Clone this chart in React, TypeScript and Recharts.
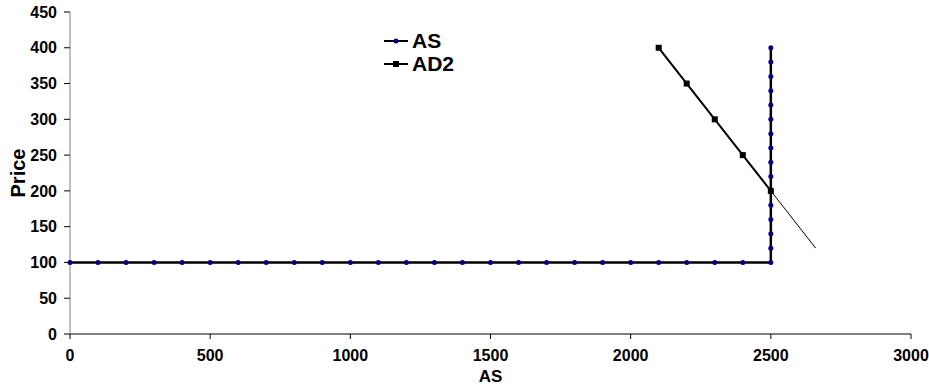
import { LineChart, Line, XAxis, YAxis, Legend } from "recharts";

// AS: flat at 100 up to 2500, then vertical at 2500
const AS_QTY = [
  0, 100, 200, 300, 400, 500, 600, 700, 800, 900, 1000, 1100, 1200, 1300,
  1400, 1500, 1600, 1700, 1800, 1900, 2000, 2100, 2200, 2300, 2400, 2500,
  2500, 2500, 2500, 2500, 2500, 2500, 2500, 2500, 2500, 2500, 2500, 2500,
  2500, 2500, 2500,
];
const AS_PRICE = [
  100, 100, 100, 100, 100, 100, 100, 100, 100, 100, 100, 100, 100, 100, 100,
  100, 100, 100, 100, 100, 100, 100, 100, 100, 100, 100, 120, 140, 160, 180,
  200, 220, 240, 260, 280, 300, 320, 340, 360, 380, 400,
];

const AD2_QTY = [2100, 2200, 2300, 2400, 2500];
const AD2_PRICE = [400, 350, 300, 250, 200];

// thin extension of AD2 past the AS line
const AD2_EXT_QTY = [2500, 2660];
const AD2_EXT_PRICE = [200, 120];

const X_TICKS = [0, 500, 1000, 1500, 2000, 2500, 3000];
const Y_TICKS = [0, 50, 100, 150, 200, 250, 300, 350, 400, 450];
const LEGEND_ORDER = ["AS", "AD2"];

const toRows = (xs: number[], ys: number[]) =>
  xs.map((qty, i) => ({ qty, price: ys[i] }));

const asData = toRows(AS_QTY, AS_PRICE);
const ad2Data = toRows(AD2_QTY, AD2_PRICE);
const extData = toRows(AD2_EXT_QTY, AD2_EXT_PRICE);

const FONT = "'Liberation Sans', Arial, sans-serif";
const NAVY = "#000080";

const SquareDot = (props: any) => {
  const { cx, cy, index } = props;
  if (cx == null || cy == null) return null;
  return <rect key={`sq-${index}`} x={cx - 3} y={cy - 3} width={6} height={6} fill="#000" />;
};

const LegendBox = (props: any) => {
  const items = (props.payload || [])
    .filter((p: any) => LEGEND_ORDER.includes(p.value))
    .sort((a: any, b: any) => LEGEND_ORDER.indexOf(a.value) - LEGEND_ORDER.indexOf(b.value));
  return (
    <div style={{ fontFamily: FONT, fontWeight: "bold", fontSize: 21 }}>
      {items.map((item: any) => (
        <div key={item.value} style={{ display: "flex", alignItems: "center", height: 23 }}>
          <svg width={26} height={12} style={{ marginRight: 3 }}>
            <line x1={1} y1={6} x2={25} y2={6} stroke="#000" strokeWidth={2} />
            {item.value === "AS" ? (
              <circle cx={13} cy={6} r={2.5} fill={NAVY} />
            ) : (
              <rect x={10} y={3} width={6} height={6} fill="#000" />
            )}
          </svg>
          <span>{item.value}</span>
        </div>
      ))}
    </div>
  );
};

export default function App() {
  return (
    <div style={{ position: "absolute", left: 0, top: 0, background: "#fff" }}>
      <LineChart
        width={929}
        height={391}
        margin={{ top: 12, right: 18, left: 0, bottom: 0 }}
      >
        <XAxis
          dataKey="qty"
          type="number"
          domain={[0, 3000]}
          ticks={X_TICKS}
          allowDuplicatedCategory={false}
          height={57}
          tickSize={5}
          tickMargin={11}
          axisLine={{ stroke: "#000" }}
          tickLine={{ stroke: "#000" }}
          tick={{ fill: "#000", fontFamily: FONT, fontWeight: "bold", fontSize: 16 }}
          label={{
            value: "AS",
            position: "insideBottom",
            offset: 9,
            fill: "#000",
            fontFamily: FONT,
            fontWeight: "bold",
            fontSize: 17,
          }}
        />
        <YAxis
          dataKey="price"
          type="number"
          domain={[0, 450]}
          ticks={Y_TICKS}
          width={70}
          tickSize={6}
          tickMargin={7}
          axisLine={{ stroke: "#808080" }}
          tickLine={{ stroke: "#000" }}
          tick={{ fill: "#000", fontFamily: FONT, fontWeight: "bold", fontSize: 16 }}
          label={{
            value: "Price",
            angle: -90,
            position: "insideLeft",
            offset: 18,
            textAnchor: "middle",
            fill: "#000",
            fontFamily: FONT,
            fontWeight: "bold",
            fontSize: 20,
          }}
        />
        <Legend
          content={<LegendBox />}
          layout="vertical"
          align="center"
          verticalAlign="middle"
          wrapperStyle={{ position: "absolute", left: 383, top: 29, width: 100 }}
        />
        <Line
          data={extData}
          dataKey="price"
          name="AD2 ext"
          stroke="#000"
          strokeWidth={1}
          dot={false}
          legendType="none"
          isAnimationActive={false}
        />
        <Line
          data={asData}
          dataKey="price"
          name="AS"
          stroke="#000"
          strokeWidth={2.5}
          dot={{ r: 2.5, fill: NAVY, stroke: "none" }}
          isAnimationActive={false}
        />
        <Line
          data={ad2Data}
          dataKey="price"
          name="AD2"
          stroke="#000"
          strokeWidth={2}
          dot={SquareDot}
          isAnimationActive={false}
        />
      </LineChart>
    </div>
  );
}
